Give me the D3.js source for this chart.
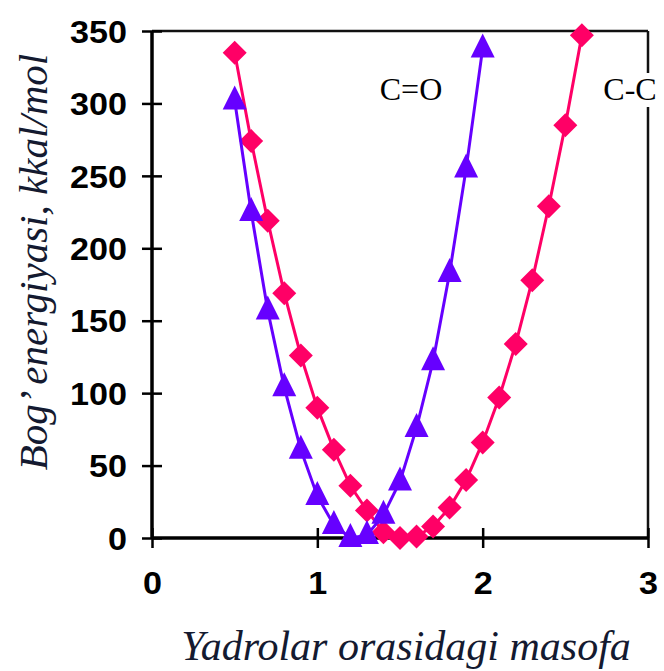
<!DOCTYPE html>
<html>
<head>
<meta charset="utf-8">
<script src="https://cdn.jsdelivr.net/npm/d3@7"></script>
<style>
  body { margin: 0; background: #fff; }
  svg { display: block; }
</style>
</head>
<body>
<svg></svg>
<script>
const svg = d3.select("svg");

const width = 664;
const height = 671;

svg.attr("width", width).attr("height", height);

// distance values
const distCC = [0.5, 0.6, 0.7, 0.8, 0.9, 1.0, 1.1, 1.2, 1.3, 1.4, 1.5, 1.6, 1.7, 1.8, 1.9, 2.0, 2.1, 2.2, 2.3, 2.4, 2.5, 2.6];
const energyCC = [335, 274, 219, 169, 126, 90, 61, 36, 19, 4, 0, 1, 8, 21, 40, 66, 97, 134, 178, 229, 285, 347];

const distCO = [0.5, 0.6, 0.7, 0.8, 0.9, 1.0, 1.1, 1.2, 1.3, 1.4, 1.5, 1.6, 1.7, 1.8, 1.9, 2.0];
const energyCO = [302, 225, 157, 104, 61, 29, 9, 0, 2, 16, 39, 76, 122, 183, 255, 338];

const xTicks = [0, 1, 2, 3];
const yTicks = [0, 50, 100, 150, 200, 250, 300, 350];

const x = d3.scaleLinear().domain([0, 3]).range([152, 648]);
const y = d3.scaleLinear().domain([0, 350]).range([538, 31]);

const ccColor = "#ff0066";
const coColor = "#6600ff";
const titleColor = "#141a30";
const serif = "'Liberation Serif', 'Times New Roman', 'DejaVu Serif', serif";

// frame (top + right), thinner
svg.append("line")
  .attr("x1", x(0)).attr("x2", x(3))
  .attr("y1", y(350)).attr("y2", y(350))
  .attr("stroke", "#111").attr("stroke-width", 2.5);
svg.append("line")
  .attr("x1", x(3)).attr("x2", x(3))
  .attr("y1", y(350)).attr("y2", y(0))
  .attr("stroke", "#111").attr("stroke-width", 2.5);

// y axis
const yAxis = d3.axisLeft(y)
  .tickValues(yTicks)
  .tickSize(10)
  .tickFormat(d3.format("d"));
const gy = svg.append("g")
  .attr("transform", `translate(${x(0)},0)`)
  .call(yAxis);
gy.select(".domain").attr("stroke", "#000").attr("stroke-width", 3.5)
  .attr("d", `M0,${y(0)}V${y(350)}`);
gy.selectAll(".tick line").attr("x2", 10).attr("x1", -10).attr("stroke-width", 2.5);
gy.selectAll(".tick text")
  .attr("x", -25)
  .attr("dy", "0.36em")
  .style("font-family", "'Liberation Sans', Arial, sans-serif")
  .style("font-weight", "bold")
  .style("font-size", "31px")
  .attr("textLength", d => String(d).length * 19)
  .attr("lengthAdjust", "spacingAndGlyphs");

// x axis
const xAxis = d3.axisBottom(x)
  .tickValues(xTicks)
  .tickSize(10)
  .tickFormat(d3.format("d"));
const gx = svg.append("g")
  .attr("transform", `translate(0,${y(0)})`)
  .call(xAxis);
gx.select(".domain").attr("stroke", "#000").attr("stroke-width", 3.5)
  .attr("d", `M${x(0)},0H${x(3)}`);
gx.selectAll(".tick line").attr("y1", -10).attr("y2", 10).attr("stroke-width", 2.5);
gx.selectAll(".tick text")
  .attr("y", 45)
  .attr("dy", "0.36em")
  .style("font-family", "'Liberation Sans', Arial, sans-serif")
  .style("font-weight", "bold")
  .style("font-size", "31px")
  .attr("textLength", 19)
  .attr("lengthAdjust", "spacingAndGlyphs");

const line = d3.line()
  .x(d => x(d[0]))
  .y(d => y(d[1]));

const ccData = distCC.map((d, i) => [d, energyCC[i]]);
const coData = distCO.map((d, i) => [d, energyCO[i]]);

// C-C series
svg.append("path")
  .datum(ccData)
  .attr("fill", "none")
  .attr("stroke", ccColor)
  .attr("stroke-width", 3)
  .attr("d", line);

svg.selectAll(".cc")
  .data(ccData)
  .enter()
  .append("path")
  .attr("class", "cc")
  .attr("transform", d => `translate(${x(d[0])},${y(d[1])})`)
  .attr("d", "M0,-12L12,0L0,12L-12,0Z")
  .attr("fill", ccColor);

// C=O series
svg.append("path")
  .datum(coData)
  .attr("fill", "none")
  .attr("stroke", coColor)
  .attr("stroke-width", 3)
  .attr("d", line);

svg.selectAll(".co")
  .data(coData)
  .enter()
  .append("path")
  .attr("class", "co")
  .attr("transform", d => `translate(${x(d[0])},${y(d[1])})`)
  .attr("d", "M0,-15L12,9L-12,9Z")
  .attr("fill", coColor);

// series labels
svg.append("text")
  .attr("x", 411).attr("y", 100)
  .attr("text-anchor", "middle")
  .style("font-family", serif)
  .style("font-size", "32px")
  .attr("fill", "#000")
  .text("C=O");

const ccLabel = svg.append("text")
  .attr("x", 630).attr("y", 100)
  .attr("text-anchor", "middle")
  .style("font-family", serif)
  .style("font-size", "32px")
  .attr("fill", "#000")
  .text("C-C");
const bb = ccLabel.node().getBBox();
svg.insert("rect", () => ccLabel.node())
  .attr("x", bb.x - 2).attr("y", bb.y + 2)
  .attr("width", bb.width + 4).attr("height", bb.height - 2)
  .attr("fill", "#fff");

// axis titles
svg.append("text")
  .attr("transform", "translate(47,262) rotate(-90)")
  .attr("text-anchor", "middle")
  .style("font-family", serif)
  .style("font-style", "italic")
  .style("font-size", "41px")
  .attr("fill", titleColor)
  .text("Bog’ energiyasi, kkal/mol");

svg.append("text")
  .attr("x", 406).attr("y", 660)
  .attr("text-anchor", "middle")
  .style("font-family", serif)
  .style("font-style", "italic")
  .style("font-size", "42px")
  .attr("fill", titleColor)
  .text("Yadrolar orasidagi masofa");
</script>
</body>
</html>
